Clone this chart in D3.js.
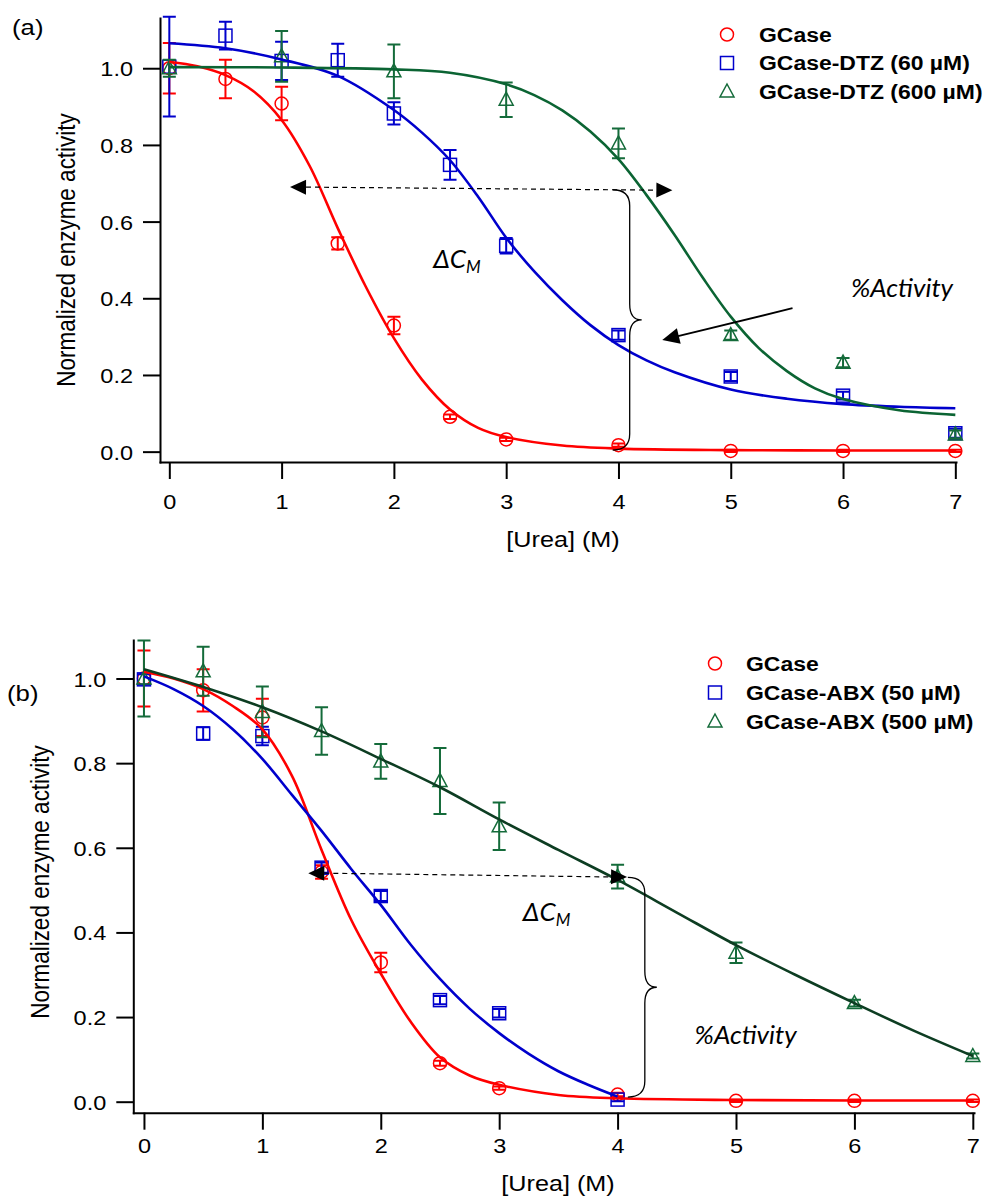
<!DOCTYPE html>
<html>
<head>
<meta charset="utf-8">
<script src="https://cdn.jsdelivr.net/npm/d3@7"></script>
<style>
  body { margin: 0; background: #fff; }
  svg { display: block; }
</style>
</head>
<body>
<svg id="chart" width="987" height="1198"></svg>
<script>

const ureaFull = [0, 0.5, 1, 1.5, 2, 2.5, 3, 4, 5, 6, 7];

const gcaseVal = [1.0, 0.972, 0.908, 0.543, 0.329, 0.091, 0.032, 0.017, 0.002, 0.002, 0.002];
const gcaseErr = [0.066, 0.05, 0.044, 0.016, 0.023, 0.006, 0.004, 0.004, 0.003, 0.003, 0.003];

const dtz60Val = [1.004, 1.085, 1.019, 1.021, 0.882, 0.748, 0.537, 0.304, 0.196, 0.146, 0.048];
const dtz60Err = [0.13, 0.036, 0.05, 0.043, 0.029, 0.039, 0.02, 0.012, 0.012, 0.01, 0.012];

const ureaDtz600 = [0, 1, 2, 3, 4, 5, 6, 7];
const dtz600Val = [1.0, 1.031, 0.992, 0.918, 0.804, 0.304, 0.232, 0.045];
const dtz600Err = [0.022, 0.066, 0.07, 0.045, 0.039, 0.012, 0.012, 0.01];

const ureaAbx50 = [0, 0.5, 1, 1.5, 2, 2.5, 3, 4];
const abx50Val = [0.998, 0.87, 0.864, 0.553, 0.486, 0.24, 0.209, 0.005];
const abx50Err = [0.012, 0.015, 0.022, 0.012, 0.012, 0.01, 0.01, 0.004];

const abx500Val = [1.0, 1.017, 0.921, 0.876, 0.804, 0.758, 0.651, 0.532, 0.352, 0.233, 0.108];
const abx500Err = [0.09, 0.058, 0.06, 0.056, 0.041, 0.078, 0.056, 0.028, 0.024, 0.008, 0.006];

// fitted curves, sampled from the figure
const fitRedX = [0, 0.25, 0.5, 0.75, 1, 1.25, 1.5, 1.75, 2, 2.25, 2.5, 2.75, 3, 3.5, 4, 5, 6, 7];
const fitRedA = [1.017, 1.005, 0.982, 0.94, 0.865, 0.745, 0.583, 0.43, 0.296, 0.188, 0.11, 0.062, 0.038, 0.016, 0.008, 0.004, 0.003, 0.003];
const fitRedB = [1.016, 1.0, 0.975, 0.935, 0.88, 0.77, 0.595, 0.43, 0.303, 0.19, 0.105, 0.062, 0.04, 0.016, 0.008, 0.004, 0.003, 0.003];

const fitDtz60X = [0, 0.5, 1, 1.5, 2, 2.25, 2.5, 2.75, 3, 3.25, 3.5, 3.75, 4, 4.25, 4.5, 5, 5.5, 6, 6.5, 7];
const fitDtz60Y = [1.065, 1.052, 1.023, 0.98, 0.891, 0.832, 0.76, 0.665, 0.558, 0.47, 0.395, 0.33, 0.278, 0.238, 0.207, 0.162, 0.138, 0.124, 0.117, 0.113];

const fitDtz600X = [0, 1, 2, 2.5, 3, 3.25, 3.5, 3.75, 4, 4.25, 4.5, 4.75, 5, 5.25, 5.5, 5.75, 6, 6.5, 7];
const fitDtz600Y = [1.003, 1.002, 0.997, 0.988, 0.958, 0.93, 0.89, 0.835, 0.763, 0.669, 0.565, 0.454, 0.352, 0.27, 0.21, 0.165, 0.137, 0.108, 0.096];

const fitAbx50X = [0, 0.25, 0.5, 0.75, 1, 1.25, 1.5, 1.75, 2, 2.25, 2.5, 2.75, 3, 3.25, 3.5, 3.75, 4];
const fitAbx50Y = [1.005, 0.975, 0.935, 0.88, 0.81, 0.725, 0.64, 0.55, 0.465, 0.372, 0.29, 0.22, 0.162, 0.113, 0.072, 0.04, 0.012];

const fitAbx500X = [0, 0.5, 1, 1.5, 2, 2.5, 3, 3.5, 4, 4.5, 5, 5.5, 6, 6.5, 7];
const fitAbx500Y = [1.022, 0.98, 0.932, 0.875, 0.81, 0.743, 0.667, 0.595, 0.524, 0.447, 0.37, 0.3, 0.233, 0.168, 0.108];

const yTicks = [0, 0.2, 0.4, 0.6, 0.8, 1.0];
const xTicks = [0, 1, 2, 3, 4, 5, 6, 7];

// ---- styling ----
const FONT = '"Liberation Sans", Arial, sans-serif';
const ITAL = 'Lato, "Open Sans", sans-serif';
const SX = 1.12;   // the figure's text is a little wide
const RED = '#ff0000', BLUE = '#0000cc', GREEN = '#146b3a';

const svg = d3.select('#chart');

function stretchText(g, x, y, str, size, opts = {}) {
	const rot = opts.rotate ? ` rotate(${opts.rotate}) scale(1,${SX})` : ` scale(${SX},1)`;
	return g.append('text')
		.attr('transform', `translate(${x},${y})` + rot)
		.attr('text-anchor', opts.anchor || 'start')
		.attr('font-family', FONT)
		.attr('font-weight', opts.bold ? 'bold' : 'normal')
		.attr('font-size', size)
		.attr('fill', '#000')
		.text(str);
}

function marker(g, shape, cx, cy, color) {
	if (shape === 'circle') {
		g.append('circle').attr('cx', cx).attr('cy', cy).attr('r', 6.5)
			.attr('fill', 'none').attr('stroke', color).attr('stroke-width', 1.5);
	} else if (shape === 'square') {
		g.append('rect').attr('x', cx - 6.5).attr('y', cy - 6.5).attr('width', 13).attr('height', 13)
			.attr('fill', 'none').attr('stroke', color).attr('stroke-width', 1.5);
	} else {
		g.append('path').attr('d', `M${cx},${cy - 7.5}L${cx + 7},${cy + 5.5}L${cx - 7},${cy + 5.5}Z`)
			.attr('fill', 'none').attr('stroke', color).attr('stroke-width', 1.5);
	}
}

function arrowHead(g, x1, y1, x2, y2, len, half) {
	// filled head with tip at (x2,y2) pointing away from (x1,y1)
	const a = Math.atan2(y2 - y1, x2 - x1);
	const bx = x2 - len * Math.cos(a), by = y2 - len * Math.sin(a);
	const px = -Math.sin(a) * half, py = Math.cos(a) * half;
	g.append('path')
		.attr('d', `M${x2},${y2}L${bx + px},${by + py}L${bx - px},${by - py}Z`)
		.attr('fill', '#000');
}

function brace(g, xv, yTop, yBot, tipDx, endDx) {
	const r = 16, ym = (yTop + yBot) / 2;
	const xe = xv + endDx, xt = xv + tipDx;
	const d = `M${xe},${yTop}Q${xv},${yTop} ${xv},${yTop + r}L${xv},${ym - r}Q${xv},${ym} ${xt},${ym}` +
		`Q${xv},${ym} ${xv},${ym + r}L${xv},${yBot - r}Q${xv},${yBot} ${xe},${yBot}`;
	g.append('path').attr('d', d).attr('fill', 'none').attr('stroke', '#000').attr('stroke-width', 1.3);
}

function drawPanel(cfg) {
	const g = svg.append('g');
	const x = d3.scaleLinear().domain(cfg.xDomain).range(cfg.xRange);
	const y = d3.scaleLinear().domain(cfg.yDomain).range(cfg.yRange);

	// axes
	const gy = g.append('g')
		.attr('transform', `translate(${cfg.xRange[0]},0)`)
		.call(d3.axisLeft(y).tickValues(yTicks).tickFormat(d3.format('.1f')).tickSize(17).tickSizeOuter(0));
	const gx = g.append('g')
		.attr('transform', `translate(0,${cfg.yRange[0]})`)
		.call(d3.axisBottom(x).tickValues(xTicks).tickFormat(d3.format('d')).tickSize(17).tickSizeOuter(0));
	[gy, gx].forEach(ax => {
		ax.attr('font-family', FONT).attr('font-size', 21);
		ax.select('.domain').attr('stroke', '#000').attr('stroke-width', 2).attr('stroke-linecap', 'square');
		ax.selectAll('.tick line').attr('stroke', '#000').attr('stroke-width', 2);
		ax.selectAll('.tick text').attr('fill', '#000');
	});
	gy.selectAll('.tick text').attr('x', -27 / SX).attr('dy', '0.36em').attr('transform', `scale(${SX},1)`);
	gx.selectAll('.tick text').attr('y', cfg.xLabelOff).attr('dy', 0).attr('transform', `scale(${SX},1)`);

	// axis titles and panel tag
	stretchText(g, cfg.xTitle[0], cfg.xTitle[1], '[Urea] (M)', 22.5, {anchor: 'middle'});
	stretchText(g, cfg.yTitle[0], cfg.yTitle[1], 'Normalized enzyme activity', 22.5, {anchor: 'middle', rotate: -90});
	stretchText(g, cfg.tag[0], cfg.tag[1], cfg.tagText, 23);

	// data: error bars + markers
	cfg.series.forEach(s => {
		const gs = g.append('g');
		s.x.forEach((xv, i) => {
			const cx = x(xv), y0 = y(s.y[i] - s.e[i]), y1 = y(s.y[i] + s.e[i]);
			gs.append('path')
				.attr('d', `M${cx},${y0}V${y1}M${cx - 6.5},${y0}H${cx + 6.5}M${cx - 6.5},${y1}H${cx + 6.5}`)
				.attr('fill', 'none').attr('stroke', s.color).attr('stroke-width', 2);
			marker(gs, s.shape, cx, y(s.y[i]), s.color);
		});
	});

	// fits
	const line = d3.line().x(d => x(d[0])).y(d => y(d[1])).curve(d3.curveCatmullRom.alpha(0.5));
	cfg.series.forEach(s => {
		g.append('path')
			.datum(d3.zip(s.fx, s.fy))
			.attr('d', line)
			.attr('fill', 'none').attr('stroke', s.lineColor).attr('stroke-width', 2.6);
	});

	// legend
	cfg.series.forEach((s, i) => {
		const ly = cfg.legend.y + i * cfg.legend.dy;
		marker(g, s.shape, cfg.legend.mx, ly, s.color);
		stretchText(g, cfg.legend.tx, ly + 7.3, s.name, 20.5, {bold: true});
	});

	// annotations
	const an = cfg.annot;
	const dx1 = x(an.dash[0][0]), dy1 = y(an.dash[0][1]), dx2 = x(an.dash[1][0]), dy2 = y(an.dash[1][1]);
	const hl = 16;
	g.append('line')
		.attr('x1', dx1 + hl).attr('y1', dy1).attr('x2', dx2 - hl).attr('y2', dy2)
		.attr('stroke', '#000').attr('stroke-width', 1.2).attr('stroke-dasharray', '5,4');
	arrowHead(g, dx2, dy2, dx1, dy1, hl, 7.5);
	arrowHead(g, dx1, dy1, dx2, dy2, hl, 7.5);

	brace(g, x(an.brace.x), y(an.brace.top), y(an.brace.bottom), 12, -17);

	if (an.arrow) {
		const ax1 = x(an.arrow[0][0]), ay1 = y(an.arrow[0][1]), ax2 = x(an.arrow[1][0]), ay2 = y(an.arrow[1][1]);
		const a = Math.atan2(ay2 - ay1, ax2 - ax1);
		g.append('line').attr('x1', ax1).attr('y1', ay1)
			.attr('x2', ax2 - 12 * Math.cos(a)).attr('y2', ay2 - 12 * Math.sin(a))
			.attr('stroke', '#000').attr('stroke-width', 1.8);
		arrowHead(g, ax1, ay1, ax2, ay2, 17, 8);
	}

	const dc = g.append('text')
		.attr('x', x(an.dcm[0])).attr('y', y(an.dcm[1]))
		.attr('font-family', ITAL).attr('font-style', 'italic').attr('font-size', 26).attr('fill', '#000');
	dc.append('tspan').text('ΔC');
	dc.append('tspan').attr('dy', 5).attr('font-size', 17).text('M');

	g.append('text')
		.attr('x', x(an.act[0])).attr('y', y(an.act[1]))
		.attr('font-family', ITAL).attr('font-style', 'italic').attr('font-size', 26).attr('fill', '#000')
		.text('%Activity');
}

drawPanel({
	xDomain: [-0.083, 7.006], xRange: [160, 956],
	yDomain: [-0.027, 1.131], yRange: [462, 18],
	xLabelOff: 47,
	xTitle: [563, 547], yTitle: [75, 250], tag: [12, 35], tagText: '(a)',
	legend: {mx: 727, tx: 759, y: 34.5, dy: 28.5},
	series: [
		{name: 'GCase', x: ureaFull, y: gcaseVal, e: gcaseErr, fx: fitRedX, fy: fitRedA, color: RED, lineColor: RED, shape: 'circle'},
		{name: 'GCase-DTZ (60 µM)', x: ureaFull, y: dtz60Val, e: dtz60Err, fx: fitDtz60X, fy: fitDtz60Y, color: BLUE, lineColor: BLUE, shape: 'square'},
		{name: 'GCase-DTZ (600 µM)', x: ureaDtz600, y: dtz600Val, e: dtz600Err, fx: fitDtz600X, fy: fitDtz600Y, color: GREEN, lineColor: '#0b6433', shape: 'triangle'}
	],
	annot: {
		dash: [[1.075, 0.69], [4.48, 0.682]],
		brace: {x: 4.10, top: 0.683, bottom: 0.004},
		arrow: [[5.55, 0.374], [4.39, 0.291]],
		dcm: [2.35, 0.478],
		act: [6.07, 0.403]
	}
});

drawPanel({
	xDomain: [-0.09, 7.01], xRange: [133.3, 974],
	yDomain: [-0.026, 1.091], yRange: [1112.7, 640],
	xLabelOff: 40,
	xTitle: [558, 1191], yTitle: [49, 882], tag: [7, 701], tagText: '(b)',
	legend: {mx: 715, tx: 746, y: 663.5, dy: 29},
	series: [
		{name: 'GCase', x: ureaFull, y: gcaseVal, e: gcaseErr, fx: fitRedX, fy: fitRedB, color: RED, lineColor: RED, shape: 'circle'},
		{name: 'GCase-ABX (50 µM)', x: ureaAbx50, y: abx50Val, e: abx50Err, fx: fitAbx50X, fy: fitAbx50Y, color: BLUE, lineColor: BLUE, shape: 'square'},
		{name: 'GCase-ABX (500 µM)', x: ureaFull, y: abx500Val, e: abx500Err, fx: fitAbx500X, fy: fitAbx500Y, color: GREEN, lineColor: '#0d3d22', shape: 'triangle'}
	],
	annot: {
		dash: [[1.388, 0.54], [4.08, 0.531]],
		brace: {x: 4.23, top: 0.53, bottom: 0.011},
		dcm: [3.2, 0.427],
		act: [4.65, 0.137]
	}
});

</script>
</body>
</html>
